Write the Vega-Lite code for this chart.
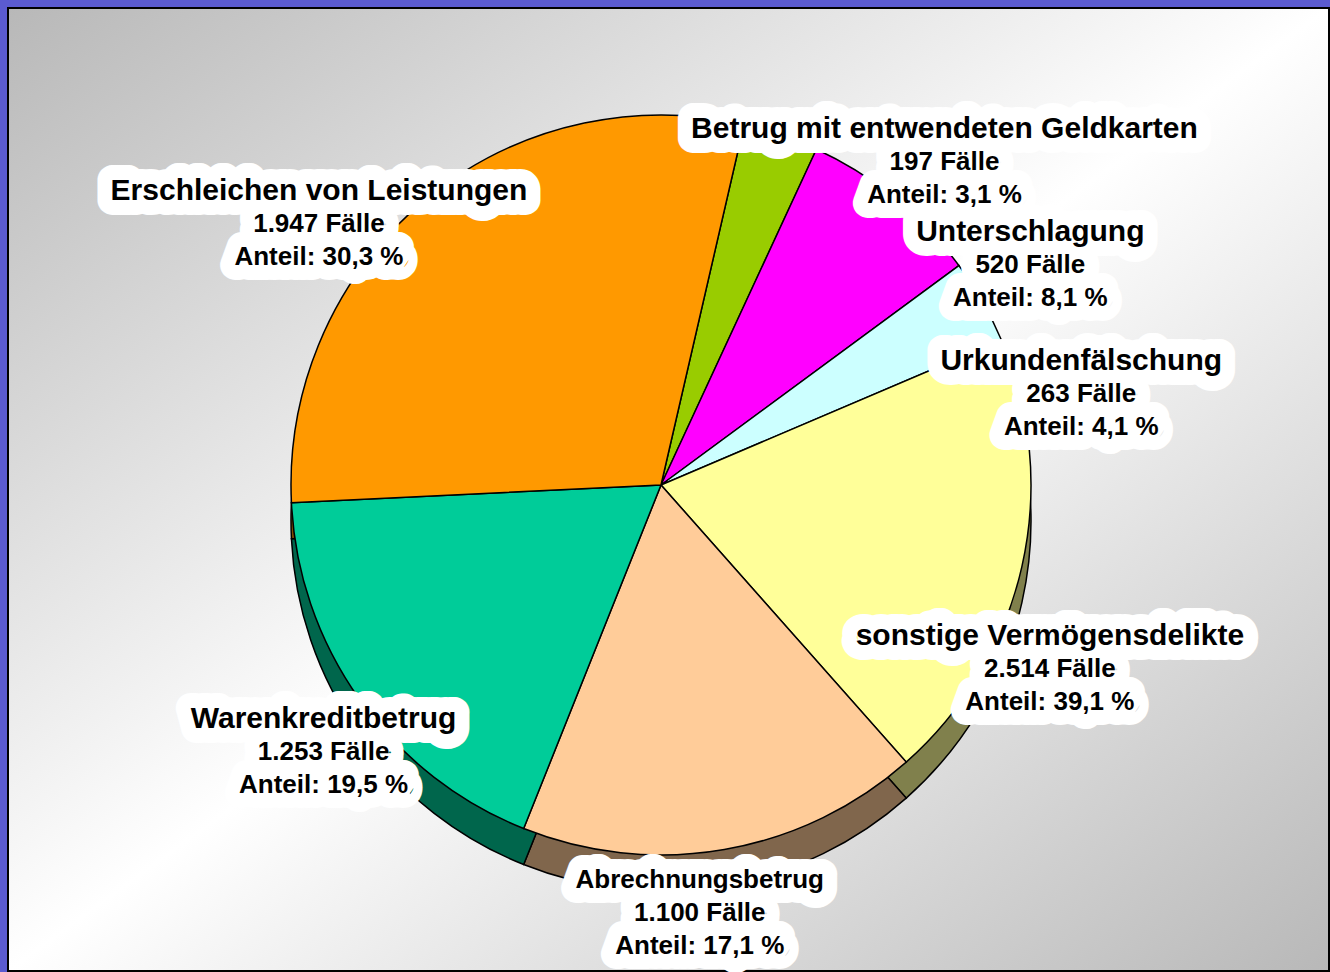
{
  "$schema": "https://vega.github.io/schema/vega-lite/v6.json",
  "width": 1330,
  "height": 972,
  "autosize": {"type": "fit", "contains": "padding"},
  "padding": {"left": 7, "top": 7, "right": 0, "bottom": 0},
  "background": "#5b5bd0",
  "config": {
    "view": {"stroke": null},
    "text": {"font": "Liberation Sans", "fontWeight": "bold", "align": "center", "baseline": "middle"}
  },
  "data": {"values": [
    {"nr": 1, "kategorie": "Betrug mit entwendeten Geldkarten", "faelle": 197, "anteil": 3.1, "segment_prozent": 3.3},
    {"nr": 2, "kategorie": "Unterschlagung", "faelle": 520, "anteil": 8.1, "segment_prozent": 8.0},
    {"nr": 3, "kategorie": "Urkundenfälschung", "faelle": 263, "anteil": 4.1, "segment_prozent": 3.7},
    {"nr": 4, "kategorie": "sonstige Vermögensdelikte", "faelle": 2514, "anteil": 39.1, "segment_prozent": 19.9},
    {"nr": 5, "kategorie": "Abrechnungsbetrug", "faelle": 1100, "anteil": 17.1, "segment_prozent": 17.6},
    {"nr": 6, "kategorie": "Warenkreditbetrug", "faelle": 1253, "anteil": 19.5, "segment_prozent": 18.2},
    {"nr": 7, "kategorie": "Erschleichen von Leistungen", "faelle": 1947, "anteil": 30.3, "segment_prozent": 29.4}
  ]},
  "transform": [
    {"calculate": "replace(format(datum.faelle, ','), ',', '.') + ' Fälle'", "as": "faelle_text"},
    {"calculate": "'Anteil: ' + replace(format(datum.anteil, '.1f'), '.', ',') + ' %'", "as": "anteil_text"}
  ],
  "resolve": {"scale": {"theta": "independent", "color": "independent"}},
  "layer": [
    {
      "transform": [{"aggregate": [{"op": "count", "as": "anzahl"}]}],
      "mark": {"type": "rect", "stroke": "#000000", "strokeWidth": 2,
        "fill": {"gradient": "linear", "x1": 0, "y1": 0, "x2": 1, "y2": 1,
          "stops": [{"offset": 0, "color": "#b8b8b8"}, {"offset": 0.5, "color": "#ffffff"}, {"offset": 1, "color": "#b8b8b8"}]}},
      "encoding": {}
    },
    {
      "mark": {"type": "arc", "radius": 370, "stroke": "#000000", "strokeWidth": 1.5, "xOffset": -7.5, "yOffset": 31.5},
      "encoding": {
        "theta": {"field": "segment_prozent", "type": "quantitative", "stack": true, "scale": {"range": [0.2265, 6.5097]}},
        "color": {"field": "kategorie", "type": "nominal", "legend": null,
          "scale": {"domain": ["Betrug mit entwendeten Geldkarten", "Unterschlagung", "Urkundenfälschung", "sonstige Vermögensdelikte", "Abrechnungsbetrug", "Warenkreditbetrug", "Erschleichen von Leistungen"],
                    "range": ["#4c6600", "#800080", "#668080", "#80804c", "#80664c", "#00664c", "#804c00"]}},
        "order": {"field": "nr", "type": "quantitative"}
      }
    },
    {
      "mark": {"type": "arc", "radius": 370, "stroke": "#000000", "strokeWidth": 1.5, "xOffset": -7.5, "yOffset": -4.5},
      "encoding": {
        "theta": {"field": "segment_prozent", "type": "quantitative", "stack": true, "scale": {"range": [0.2265, 6.5097]}},
        "color": {"field": "kategorie", "type": "nominal", "legend": null,
          "scale": {"domain": ["Betrug mit entwendeten Geldkarten", "Unterschlagung", "Urkundenfälschung", "sonstige Vermögensdelikte", "Abrechnungsbetrug", "Warenkreditbetrug", "Erschleichen von Leistungen"],
                    "range": ["#99cc00", "#ff00ff", "#ccffff", "#ffff99", "#ffcc99", "#00cc99", "#ff9900"]}},
        "order": {"field": "nr", "type": "quantitative"}
      }
    },
    {
      "mark": {"type": "text", "radius": 430, "xOffset": -7.5, "yOffset": -4.5, "dy": -33, "fill": "#ffffff", "stroke": "#ffffff", "strokeWidth": 30, "strokeJoin": "round"},
      "encoding": {
        "theta": {"field": "segment_prozent", "type": "quantitative", "stack": true, "scale": {"range": [0.6283, 6.1785]}},
        "detail": {"field": "kategorie", "type": "nominal"},
        "order": {"field": "nr", "type": "quantitative"},
        "text": {"field": "kategorie", "type": "nominal"},
        "size": {"condition": {"test": "datum.nr === 5", "value": 26}, "value": 30}
      }
    },
    {
      "mark": {"type": "text", "radius": 430, "xOffset": -7.5, "yOffset": -4.5, "dy": 0, "fontSize": 26, "fill": "#ffffff", "stroke": "#ffffff", "strokeWidth": 30, "strokeJoin": "round"},
      "encoding": {
        "theta": {"field": "segment_prozent", "type": "quantitative", "stack": true, "scale": {"range": [0.6283, 6.1785]}},
        "detail": {"field": "kategorie", "type": "nominal"},
        "order": {"field": "nr", "type": "quantitative"},
        "text": {"field": "faelle_text", "type": "nominal"}
      }
    },
    {
      "mark": {"type": "text", "radius": 430, "xOffset": -7.5, "yOffset": -4.5, "dy": 33, "fontSize": 26, "fill": "#ffffff", "stroke": "#ffffff", "strokeWidth": 30, "strokeJoin": "round"},
      "encoding": {
        "theta": {"field": "segment_prozent", "type": "quantitative", "stack": true, "scale": {"range": [0.6283, 6.1785]}},
        "detail": {"field": "kategorie", "type": "nominal"},
        "order": {"field": "nr", "type": "quantitative"},
        "text": {"field": "anteil_text", "type": "nominal"}
      }
    },
    {
      "mark": {"type": "text", "radius": 430, "xOffset": -7.5, "yOffset": -4.5, "dy": -33, "fill": "#000000"},
      "encoding": {
        "theta": {"field": "segment_prozent", "type": "quantitative", "stack": true, "scale": {"range": [0.6283, 6.1785]}},
        "detail": {"field": "kategorie", "type": "nominal"},
        "order": {"field": "nr", "type": "quantitative"},
        "text": {"field": "kategorie", "type": "nominal"},
        "size": {"condition": {"test": "datum.nr === 5", "value": 26}, "value": 30}
      }
    },
    {
      "mark": {"type": "text", "radius": 430, "xOffset": -7.5, "yOffset": -4.5, "dy": 0, "fontSize": 26, "fill": "#000000"},
      "encoding": {
        "theta": {"field": "segment_prozent", "type": "quantitative", "stack": true, "scale": {"range": [0.6283, 6.1785]}},
        "detail": {"field": "kategorie", "type": "nominal"},
        "order": {"field": "nr", "type": "quantitative"},
        "text": {"field": "faelle_text", "type": "nominal"}
      }
    },
    {
      "mark": {"type": "text", "radius": 430, "xOffset": -7.5, "yOffset": -4.5, "dy": 33, "fontSize": 26, "fill": "#000000"},
      "encoding": {
        "theta": {"field": "segment_prozent", "type": "quantitative", "stack": true, "scale": {"range": [0.6283, 6.1785]}},
        "detail": {"field": "kategorie", "type": "nominal"},
        "order": {"field": "nr", "type": "quantitative"},
        "text": {"field": "anteil_text", "type": "nominal"}
      }
    }
  ]
}
